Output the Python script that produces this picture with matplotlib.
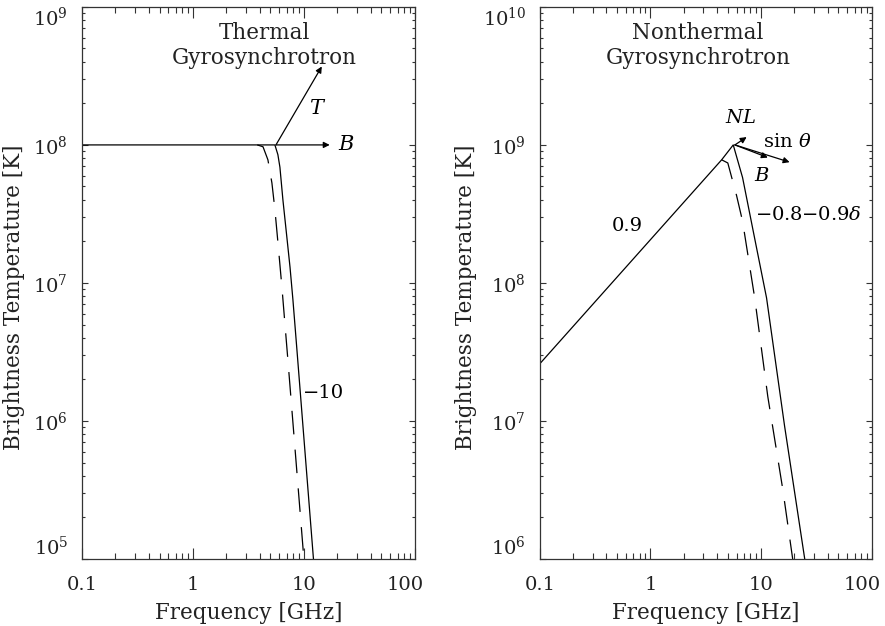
import matplotlib
matplotlib.use('Agg')
import matplotlib.pyplot as plt
from matplotlib.ticker import LogLocator, FixedLocator, NullFormatter, LogFormatterMathtext
from matplotlib.transforms import ScaledTranslation

plt.rcParams['font.family'] = 'DejaVu Serif'
plt.rcParams['mathtext.fontset'] = 'dejavuserif'
plt.rcParams['lines.scale_dashes'] = False

# thermal gyrosynchrotron (left panel)
th_freq = [0.1, 1.0, 5.48, 5.83, 6.08, 6.47, 7.0, 7.5, 7.96, 8.65, 12.2]
th_temp = [1e8, 1e8, 1e8, 8.5e7, 6.9e7, 4.0e7, 2.2e7, 1.3e7, 7.6e6, 3.3e6, 1e5]
th_dash_freq = [3.8, 4.28, 4.74, 5.15, 5.48, 5.84, 6.34, 7.18, 10.0]
th_dash_temp = [1e8, 9.7e7, 7.8e7, 5.3e7, 3.4e7, 1.95e7, 9.3e6, 2.75e6, 1e5]

# nonthermal gyrosynchrotron (right panel)
nt_freq = [0.1, 4.4, 5.6, 6.8, 8.75, 11.2, 16.3, 24.8]
nt_temp = [2.6e7, 7.8e8, 1e9, 5.8e8, 2.1e8, 7.8e7, 9.2e6, 1e6]
nt_dash_freq = [4.4, 5.0, 6.0, 6.8, 8.75, 11.5, 15.7, 19.3]
nt_dash_temp = [7.8e8, 7.4e8, 4.3e8, 2.8e8, 7.8e7, 1.5e7, 3.2e6, 1e6]

xticks = [0.1, 1, 10, 100]
xticklabels = ['0.1', '1', '10', '100']
th_yticks = [1e5, 1e6, 1e7, 1e8, 1e9]
nt_yticks = [1e6, 1e7, 1e8, 1e9, 1e10]

fig = plt.figure(figsize=(8.85, 6.26), dpi=100)
ax1 = fig.add_axes([0.0927, 0.107, 0.376, 0.882])
ax2 = fig.add_axes([0.610, 0.107, 0.375, 0.882])
txt = '#222222'


def style(ax, yticks, ylab_x):
    ax.set_xscale('log')
    ax.set_yscale('log')
    ax.set_xlim(0.1, 100)
    ax.set_ylim(yticks[0], yticks[-1])
    ax.xaxis.set_major_locator(FixedLocator(xticks))
    ax.set_xticklabels(xticklabels)
    ax.xaxis.set_minor_locator(LogLocator(base=10, subs=range(2, 10)))
    ax.xaxis.set_minor_formatter(NullFormatter())
    ax.yaxis.set_major_locator(FixedLocator(yticks))
    ax.yaxis.set_major_formatter(LogFormatterMathtext())
    ax.yaxis.set_minor_locator(LogLocator(base=10, subs=range(2, 10), numticks=10))
    ax.yaxis.set_minor_formatter(NullFormatter())
    ax.tick_params(axis='both', which='both', direction='in', top=True, right=True,
                   width=0.8, labelsize=14, colors='#333333', labelcolor=txt)
    ax.tick_params(axis='x', which='major', length=8, pad=12)
    ax.tick_params(axis='x', which='minor', length=4.3)
    ax.tick_params(axis='y', which='major', length=4, pad=10)
    ax.tick_params(axis='y', which='minor', length=2.2)
    for s in ax.spines.values():
        s.set_linewidth(0.9)
        s.set_color('#333333')
    ax.set_xlabel('Frequency [GHz]', fontsize=15.5, color=txt, labelpad=6)
    ax.set_ylabel('Brightness Temperature [K]', fontsize=15.5, color=txt)
    ax.yaxis.set_label_coords(ylab_x, 0.475)
    # end labels kept inside the plot height, like the original
    yt = ax.yaxis.get_major_ticks()
    yt[0].label1.set_va('bottom')
    yt[-1].label1.set_va('top')
    xt = ax.xaxis.get_major_ticks()
    xt[-1].label1.set_transform(xt[-1].label1.get_transform()
                                + ScaledTranslation(-0.1, 0, fig.dpi_scale_trans))


style(ax1, th_yticks, -0.17)
style(ax2, nt_yticks, -0.19)

lw = 0.9
ax1.plot(th_freq, th_temp, color='black', lw=lw)
ax1.plot(th_dash_freq, th_dash_temp, color='black', lw=lw, dashes=(17, 11))
ax2.plot(nt_freq, nt_temp, color='black', lw=lw)
ax2.plot(nt_dash_freq, nt_dash_temp, color='black', lw=lw, dashes=(17, 11))

arrow = dict(arrowstyle='-|>', color='black', lw=0.9, mutation_scale=9, shrinkA=0, shrinkB=0)

# left panel annotations
ax1.text(0.547, 0.972, 'Thermal\nGyrosynchrotron', transform=ax1.transAxes,
         ha='center', va='top', fontsize=15.5, linespacing=1.15, color=txt)
ax1.annotate('', xy=(14.5, 3.7e8), xytext=(5.6, 1e8), arrowprops=arrow)
ax1.annotate('', xy=(17.1, 1e8), xytext=(5.6, 1e8), arrowprops=arrow)
ax1.text(13.4, 1.85e8, '$T$', fontsize=15, ha='center', va='center')
ax1.text(20.5, 1e8, '$B$', fontsize=15, ha='left', va='center')
ax1.text(9.8, 1.6e6, '\u221210', fontsize=14, ha='left', va='center')

# right panel annotations
ax2.text(0.476, 0.972, 'Nonthermal\nGyrosynchrotron', transform=ax2.transAxes,
         ha='center', va='top', fontsize=15.5, linespacing=1.15, color=txt)
ax2.annotate('', xy=(7.4, 1.14e9), xytext=(5.8, 1e9), arrowprops=arrow)
ax2.annotate('', xy=(18.1, 7.5e8), xytext=(5.8, 1e9), arrowprops=arrow)
ax2.annotate('', xy=(11.5, 8.1e8), xytext=(5.8, 1e9), arrowprops=arrow)
ax2.text(6.5, 1.57e9, '$NL$', fontsize=14, ha='center', va='center')
ax2.text(10.3, 1.05e9, 'sin $\\theta$', fontsize=14, ha='left', va='center')
ax2.text(10.1, 6.0e8, '$B$', fontsize=14, ha='center', va='center')
ax2.text(0.62, 2.6e8, '0.9', fontsize=14, ha='center', va='center')
ax2.text(8.75, 3.1e8, '\u22120.8\u22120.9$\\delta$', fontsize=14, ha='left', va='center')

fig.savefig('out.png', dpi=100)
